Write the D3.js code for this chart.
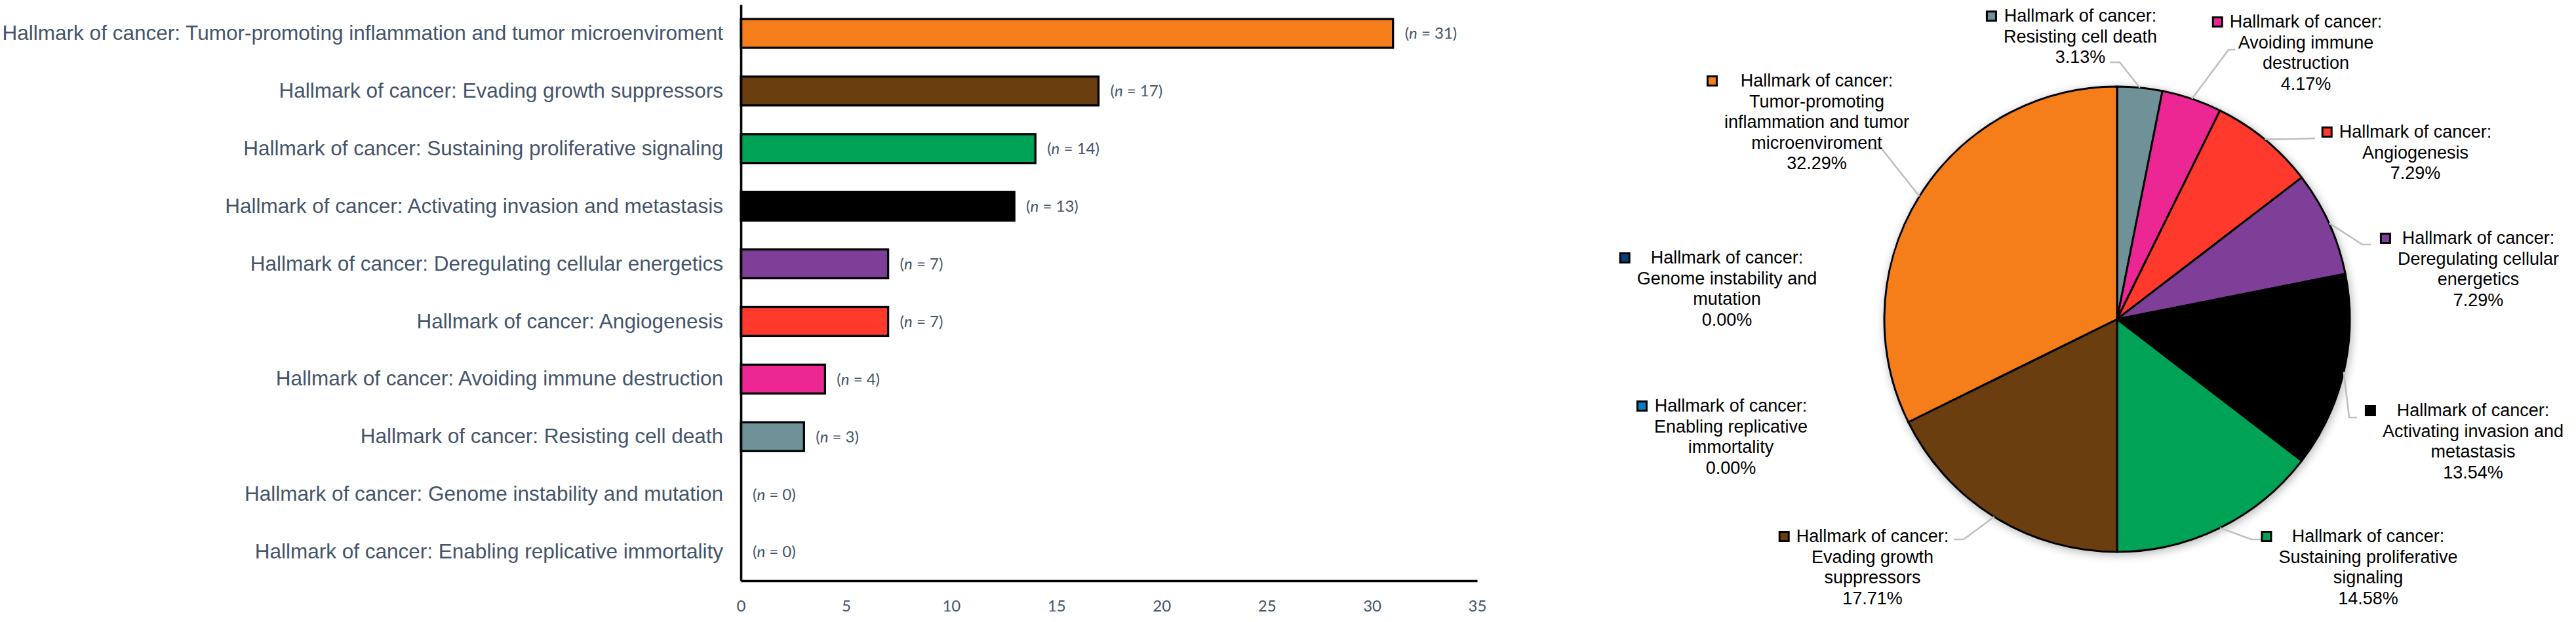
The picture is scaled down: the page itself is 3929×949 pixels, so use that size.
<!DOCTYPE html>
<html><head><meta charset="utf-8">
<script src="https://cdn.jsdelivr.net/npm/d3@7"></script>
<style>body{margin:0;background:#fff} svg{display:block;background:#fff}</style>
</head><body><svg id="c" width="3929" height="949"></svg>
<script>
// ---------- data ----------
const categories = [
  "Hallmark of cancer: Tumor-promoting inflammation and tumor microenviroment",
  "Hallmark of cancer: Evading growth suppressors",
  "Hallmark of cancer: Sustaining proliferative signaling",
  "Hallmark of cancer: Activating invasion and metastasis",
  "Hallmark of cancer: Deregulating cellular energetics",
  "Hallmark of cancer: Angiogenesis",
  "Hallmark of cancer: Avoiding immune destruction",
  "Hallmark of cancer: Resisting cell death",
  "Hallmark of cancer: Genome instability and mutation",
  "Hallmark of cancer: Enabling replicative immortality"
];
const counts = [31, 17, 14, 13, 7, 7, 4, 3, 0, 0];
const colors = ["#F57E1B", "#6B3E10", "#00A356", "#000000", "#7F3F98", "#FF3A2D", "#EC2794", "#6F9298", "#0B3F7A", "#0A7FBE"];
const xTicks = [0, 5, 10, 15, 20, 25, 30, 35];
// pie slice order (clockwise from 12 o'clock), as indices into categories
const pieOrder = [7, 6, 5, 4, 3, 2, 1, 9, 8, 0];

// ---------- layout (label placement around the pie, relative to pie centre) ----------
const pieLabelLayout = {
  7: {dx: -56,  dy: -454, leader: [[4, -392], [-11, -392]]},
  6: {dx: 288,  dy: -445, leader: [[170, -411], [180, -411]]},
  5: {dx: 455,  dy: -277, leader: [[273, -275], [302, -276]]},
  4: {dx: 551,  dy: -115, leader: [[374, -114], [387, -114]]},
  3: {dx: 543,  dy: 148,  leader: [[354, 150], [366, 150]]},
  2: {dx: 383,  dy: 340,  leader: [[205, 336], [219, 336]]},
  1: {dx: -373, dy: 340,  leader: [[-234, 336], [-249, 336]]},
  9: {dx: -589, dy: 141,  leader: null},
  8: {dx: -595, dy: -85,  leader: null},
  0: {dx: -458, dy: -355, leader: [[-359, -260], [-379, -260]]}
};

const svg = d3.select("#c");
const textCol = "#44546A";

// ---------- bar chart ----------
const x = d3.scaleLinear().domain([0, 35]).range([1130, 2253]);
const y = d3.scaleBand().domain(categories).range([7, 886]).paddingInner(0.5).paddingOuter(0.25);

const barG = svg.append("g");
barG.selectAll("rect.bar")
  .data(categories.map((c, i) => ({c, v: counts[i], col: colors[i]})).filter(d => d.v > 0))
  .join("rect")
  .attr("class", "bar")
  .attr("x", x(0))
  .attr("y", d => y(d.c))
  .attr("width", d => x(d.v) - x(0))
  .attr("height", y.bandwidth())
  .attr("fill", d => d.col)
  .attr("stroke", "#000")
  .attr("stroke-width", 3.3);

// n labels
const nl = barG.selectAll("text.nlab")
  .data(categories.map((c, i) => ({c, v: counts[i]})))
  .join("text")
  .attr("class", "nlab")
  .attr("x", d => x(d.v) + 18)
  .attr("y", d => y(d.c) + y.bandwidth() / 2)
  .attr("dy", "0.35em")
  .attr("font-family", "Lato, 'Open Sans', sans-serif")
  .attr("font-size", 24)
  .attr("fill", textCol);
nl.append("tspan").text("(");
nl.append("tspan").attr("font-style", "italic").text("n");
nl.append("tspan").text(d => " = " + d.v + ")");

// y axis
const yAxis = svg.append("g").attr("transform", `translate(${x(0)},0)`)
  .call(d3.axisLeft(y).tickSize(0).tickSizeOuter(0).tickPadding(27));
yAxis.select(".domain").attr("stroke", "#000").attr("stroke-width", 3.6);
yAxis.selectAll("text").attr("font-family", "'Liberation Sans', Arial, sans-serif")
  .attr("font-size", 31.5).attr("fill", textCol);

// x axis
const xAxis = svg.append("g").attr("transform", `translate(0,886)`)
  .call(d3.axisBottom(x).tickValues(xTicks).tickSize(0).tickSizeOuter(0).tickPadding(30));
xAxis.select(".domain").attr("stroke", "#000").attr("stroke-width", 3.6);
xAxis.selectAll("text").attr("font-family", "Lato, 'Open Sans', sans-serif")
  .attr("font-size", 24).attr("fill", textCol);

// ---------- pie chart ----------
const cx = 3229, cy = 487, R = 355;
const total = d3.sum(counts);
const pct = d3.format(".2%");

const defs = svg.append("defs");
const f = defs.append("filter").attr("id", "shadow").attr("x", "-20%").attr("y", "-20%").attr("width", "140%").attr("height", "140%");
f.append("feGaussianBlur").attr("stdDeviation", 7);

const pieG = svg.append("g").attr("transform", `translate(${cx},${cy})`);
pieG.append("circle").attr("r", R + 2).attr("cx", 2).attr("cy", 3)
  .attr("fill", "#000").attr("opacity", 0.28).attr("filter", "url(#shadow)");

const pieData = pieOrder.map(i => ({i, v: counts[i]}));
const arcs = d3.pie().sort(null).value(d => d.v)(pieData);
const arc = d3.arc().innerRadius(0).outerRadius(R);

pieG.selectAll("path.slice").data(arcs).join("path")
  .attr("class", "slice")
  .attr("d", arc)
  .attr("fill", d => colors[d.data.i])
  .attr("stroke", "#000")
  .attr("stroke-width", 3)
  .attr("stroke-linejoin", "round");

// leader lines
arcs.forEach(a => {
  const L = pieLabelLayout[a.data.i];
  if (!L || !L.leader || a.data.v === 0) return;
  const mid = (a.startAngle + a.endAngle) / 2;
  const pts = [[R * Math.sin(mid), -R * Math.cos(mid)], ...L.leader];
  pieG.append("path")
    .attr("d", d3.line()(pts))
    .attr("fill", "none")
    .attr("stroke", "#BFBFBF")
    .attr("stroke-width", 2.6);
});

// labels
const lineH = 31.5, maxW = 300, fs = 27;
arcs.forEach(a => {
  const i = a.data.i;
  const L = pieLabelLayout[i];
  const g = pieG.append("g").attr("transform", `translate(${L.dx},${L.dy})`);
  // word wrap
  const probe = g.append("text").attr("font-family", "'Liberation Sans', Arial, sans-serif").attr("font-size", fs);
  const words = categories[i].split(" ");
  const lines = [];
  let cur = "";
  words.forEach(w => {
    const test = cur ? cur + " " + w : w;
    probe.text(test);
    if (probe.node().getComputedTextLength() > maxW && cur) { lines.push(cur); cur = w; }
    else cur = test;
  });
  if (cur) lines.push(cur);
  lines.push(pct(counts[i] / total));
  probe.remove();
  let wMax = 0;
  lines.forEach((ln, k) => {
    const t = g.append("text")
      .attr("x", 0).attr("y", k * lineH)
      .attr("text-anchor", "middle")
      .attr("font-family", "'Liberation Sans', Arial, sans-serif")
      .attr("font-size", fs)
      .attr("fill", "#000")
      .text(ln);
    if (k < lines.length - 1) wMax = Math.max(wMax, t.node().getComputedTextLength());
  });
  g.append("rect")
    .attr("x", -wMax / 2 - 10 - 15.5).attr("y", -15.5)
    .attr("width", 14).attr("height", 14)
    .attr("fill", colors[i]).attr("stroke", "#000").attr("stroke-width", 3);
});
</script>
</body></html>
